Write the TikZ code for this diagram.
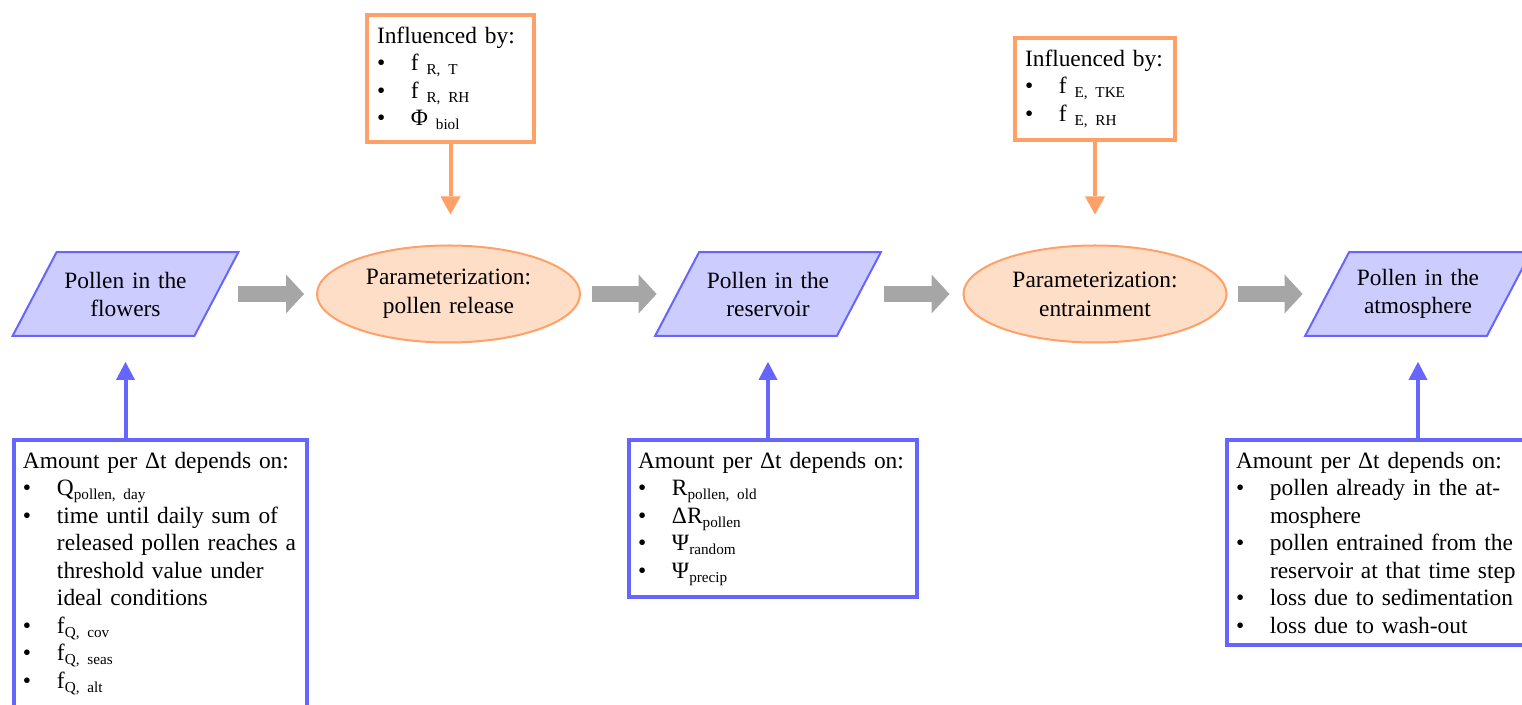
\documentclass[tikz,border=0pt]{standalone}
\usepackage{fontspec}
\setmainfont{Liberation Serif}
\usetikzlibrary{arrows.meta,shapes.geometric,backgrounds}

\newcommand{\bitem}[1]{\par\noindent\hangindent=17pt\hangafter=1\makebox[17pt][l]{•}#1}
\newcommand{\lowidx}[1]{\raisebox{-2pt}{\fontsize{7.6}{8}\selectfont #1}}

\begin{document}
\begin{tikzpicture}[x=0.5pt,y=-0.5pt,
    every node/.style={font=\fontsize{11.7}{13.75}\selectfont},
    store/.style={minimum width=90.5pt, minimum height=41.5pt, inner sep=0pt,
      text width=80pt, align=center, font=\fontsize{11.7}{14}\selectfont},
    storeshape/.style={draw=blueline, fill=bluefill, line width=1pt},
    param/.style={ellipse, draw=orangeline, fill=peach, line width=1pt,
      minimum width=131.5pt, minimum height=48.5pt, inner sep=0pt,
      text width=87pt, align=center, font=\fontsize{11.7}{14.5}\selectfont},
    infbox/.style={draw=orangeline, line width=2pt, fill=white, anchor=north west,
      inner xsep=5pt, inner ysep=6pt, align=left},
    depbox/.style={draw=blueline, line width=2pt, fill=white, anchor=north west,
      inner xsep=4.5pt, inner ysep=6pt, align=left},
    flow/.style={draw=flowgray, line width=8pt,
      -{Triangle[length=9pt,width=19.5pt,line width=0pt]}},
    infarrow/.style={draw=orangeline, line width=2pt,
      -{Triangle[length=9pt,width=10pt,line width=0pt]}},
    deparrow/.style={draw=blueline, line width=2pt,
      -{Triangle[length=9pt,width=9.5pt,line width=0pt]}}
  ]
    \definecolor{blueline}{RGB}{102, 102, 255}
    \definecolor{bluefill}{RGB}{204, 204, 255}
    \definecolor{orangeline}{RGB}{255, 160, 102}
    \definecolor{peach}{RGB}{255, 222, 200}
    \definecolor{flowgray}{RGB}{166, 166, 166}

    \useasboundingbox (0,0) rectangle (1522,705);

    % main chain
    \node[store] (flowers) at (125.5,294) {Pollen in the\\flowers};
    \node[param] (release) at (448.5,294) {Parameterization:\\pollen release};
    \node[store] (reservoir) at (768,294) {Pollen in the\\reservoir};
    \node[param] (entrain) at (1095,294) {Parameterization:\\entrainment};
    \node[store] (atmos) at (1418,294) {Pollen in the\\atmosphere};

    \begin{scope}[on background layer]
      \foreach \n in {flowers,reservoir,atmos}
        \path[storeshape] ([xshift=11pt]\n.north west) -- ([xshift=11pt]\n.north east)
          -- ([xshift=-11pt]\n.south east) -- ([xshift=-11pt]\n.south west) -- cycle;
    \end{scope}

    \draw[flow, shorten <=11pt, shorten >=6pt] (flowers) -- (release);
    \draw[flow, shorten <=5.5pt, shorten >=10.25pt] (release) -- (reservoir);
    \draw[flow, shorten <=12.75pt, shorten >=6.5pt] (reservoir) -- (entrain);
    \draw[flow, shorten <=5pt, shorten >=12.25pt] (entrain) -- (atmos);

    % influencing factors
    \node[infbox, text width=73.5pt] (relfac) at (365,13)
      {Influenced by:\bitem{f \lowidx{R, T}}\bitem{f \lowidx{R, RH}}\bitem{Φ \lowidx{biol}}};
    \node[infbox, text width=70pt] (entfac) at (1013,36)
      {Influenced by:\bitem{f \lowidx{E, TKE}}\bitem{f \lowidx{E, RH}}};

    \draw[infarrow, shorten >=15pt] (relfac.south) -- (relfac.south |- release.north);
    \draw[infarrow, shorten >=15pt] (entfac.south) -- (entfac.south |- entrain.north);

    % amounts per time step
    \node[depbox, text width=137.5pt] (flowdep) at (12,438)
      {Amount per Δt depends on:%
       \bitem{Q\lowidx{pollen, day}}%
       \bitem{time until daily sum of\newline\mbox{released pollen reaches a}\newline threshold value under\newline ideal conditions}%
       \bitem{f\lowidx{Q, cov}}%
       \bitem{f\lowidx{Q, seas}}%
       \bitem{f\lowidx{Q, alt}}};
    \node[depbox, text width=135pt] (resdep) at (627,438)
      {Amount per Δt depends on:%
       \bitem{R\lowidx{pollen, old}}%
       \bitem{ΔR\lowidx{pollen}}%
       \bitem{Ψ\lowidx{random}}%
       \bitem{Ψ\lowidx{precip}}};
    \node[depbox, text width=165pt] (atmdep) at (1225,438)
      {Amount per Δt depends on:%
       \bitem{pollen already in the at-\newline mosphere}%
       \bitem{pollen entrained from the\newline reservoir at that time step}%
       \bitem{loss due to sedimentation}%
       \bitem{loss due to wash-out}};

    \draw[deparrow, shorten >=13pt] (flowers |- flowdep.north) -- (flowers |- flowers.south);
    \draw[deparrow, shorten >=13pt] (reservoir |- resdep.north) -- (reservoir |- reservoir.south);
    \draw[deparrow, shorten >=13pt] (atmos |- atmdep.north) -- (atmos |- atmos.south);
  \end{tikzpicture}
\end{document}
